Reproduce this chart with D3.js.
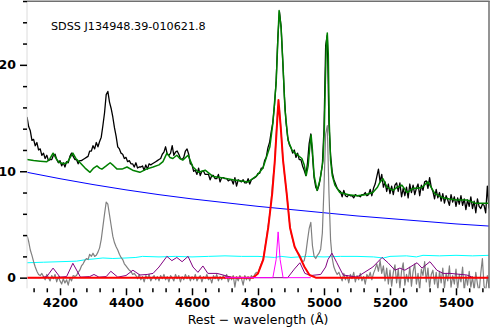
<!DOCTYPE html>
<html>
<head>
<meta charset="utf-8">
<script src="https://cdn.jsdelivr.net/npm/d3@7"></script>
<style>
  body { margin: 0; background: #fff; }
  svg { display: block; font-family: "DejaVu Sans", sans-serif; }
</style>
</head>
<body>
<div class="chart"></div>
<script>
// observed spectrum + residual, sampled on a 5 A grid
const obsWave = d3.range(4100, 5501, 5)
const obsFlux = [
  15.1, 14.2, 13.8, 12.9, 13.0, 12.4, 12.7, 12.0, 12.1, 11.5,
  11.7, 11.2, 11.5, 11.0, 11.1, 11.1, 11.5, 11.6, 11.1, 10.8,
  11.0, 10.5, 10.8, 10.4, 10.9, 10.8, 11.4, 11.7, 11.4, 11.1,
  11.1, 10.7, 11.0, 11.0, 11.1, 11.2, 11.3, 11.4, 11.9, 11.9,
  12.4, 12.1, 12.7, 12.3, 12.8, 13.2, 14.3, 15.5, 17.2, 17.5,
  16.5, 15.9, 15.1, 14.1, 13.3, 12.3, 12.1, 11.7, 11.6, 11.2,
  11.3, 10.9, 11.0, 10.7, 10.7, 10.4, 10.8, 10.3, 10.4, 10.4,
  10.5, 10.1, 10.6, 10.2, 10.7, 10.6, 10.7, 10.8, 10.9, 11.0,
  11.1, 11.2, 11.6, 11.8, 12.3, 11.6, 11.5, 11.7, 12.4, 11.5,
  11.8, 11.9, 11.6, 11.2, 11.1, 11.3, 11.9, 12.1, 11.6, 10.7,
  10.6, 10.0, 10.1, 9.7, 10.3, 9.6, 10.0, 10.0, 9.7, 9.7,
  9.7, 9.2, 9.6, 9.6, 9.3, 9.3, 9.7, 9.0, 9.4, 9.4,
  9.3, 9.3, 9.1, 9.2, 9.2, 8.8, 9.4, 8.6, 9.2, 9.1,
  9.0, 9.2, 8.9, 8.9, 9.3, 8.8, 9.2, 9.3, 9.4, 9.5,
  9.8, 9.8, 10.3, 10.3, 11.0, 11.3, 12.2, 12.7, 13.7, 14.6,
  16.2, 18.5, 22.5, 25.0, 23.6, 20.4, 17.0, 14.6, 13.2, 12.5,
  12.2, 11.7, 12.0, 11.3, 11.7, 11.1, 11.1, 10.5, 10.1, 9.6,
  10.8, 12.6, 13.5, 11.5, 9.4, 8.5, 8.2, 8.7, 9.6, 10.6,
  14.0, 21.8, 22.8, 14.5, 11.5, 9.9, 9.2, 8.8, 8.4, 8.2,
  8.1, 7.6, 8.2, 7.7, 7.6, 7.8, 7.7, 7.7, 7.5, 7.8,
  7.7, 7.7, 7.6, 7.8, 7.8, 8.0, 7.7, 7.8, 8.3, 7.7,
  8.4, 8.8, 9.5, 10.2, 9.0, 9.7, 8.5, 9.0, 8.1, 8.8,
  7.9, 8.6, 7.8, 8.7, 8.9, 8.1, 8.9, 7.6, 8.4, 7.7,
  8.5, 7.5, 8.8, 8.0, 8.7, 7.8, 8.4, 8.8, 7.7, 8.7,
  8.2, 9.0, 9.1, 8.4, 9.4, 8.5, 8.1, 7.4, 8.3, 7.5,
  8.0, 7.2, 7.9, 7.0, 7.7, 7.3, 6.8, 7.8, 7.1, 7.6,
  6.7, 7.5, 6.9, 7.7, 6.8, 7.4, 6.4, 7.3, 6.7, 7.6,
  6.5, 7.2, 6.1, 7.4, 6.7, 6.5, 6.9, 6.8, 6.1, 8.6,
  6.5
]
const residFlux = [
  4.0, 3.4, 2.6, 2.1, 1.5, 1.0, 0.6, 0.3, 0.2, 0.4,
  0.1, -0.2, 0.3, 0.0, -0.3, 0.2, -0.1, 0.3, -0.4, 0.1,
  -0.3, -0.6, -0.1, -0.5, -0.2, -0.7, 0.0, -0.3, 0.2, 0.1,
  0.2, 0.5, 0.7, 1.1, 1.3, 1.6, 1.8, 1.7, 2.2, 2.0,
  2.3, 2.0, 2.1, 2.4, 2.8, 3.6, 4.8, 6.0, 7.1, 6.9,
  5.9, 4.9, 3.9, 3.3, 2.9, 2.6, 2.2, 1.9, 1.7, 1.3,
  1.1, 0.9, 0.7, 0.6, 0.3, 0.4, 0.2, -0.1, 0.3, -0.2,
  0.1, -0.4, 0.2, -0.1, 0.3, -0.3, 0.0, 0.2, -0.2, 0.1,
  -0.3, 0.2, -0.1, 0.3, -0.2, 0.1, -0.4, 0.2, 0.0, -0.3,
  0.3, -0.1, 0.2, -0.4, 0.1, -0.2, 0.3, -0.1, 0.2, -0.3,
  0.1, -0.2, 0.3, -0.3, 0.0, 0.2, -0.4, 0.1, -0.1, 0.3,
  -0.2, 0.0, -0.5, 0.2, -0.1, 0.3, -0.3, 0.1, -0.2, 0.2,
  -0.1, 0.3, -0.4, 0.1, -0.2, 0.2, -0.9, 0.1, -0.3, 0.2,
  -0.1, -0.7, 0.2, -0.2, 0.1, -0.3, 0.2, 0.0, 0.3, 0.5,
  0.4, 0.9, 1.3, 1.7, 2.6, 3.6, 4.7, 5.8, 7.3, 9.2,
  10.6, 13.3, 16.0, 15.8, 13.7, 11.4, 9.8, 8.4, 7.0, 5.3,
  4.2, 3.6, 3.0, 2.6, 2.4, 2.2, 1.9, 1.5, 1.6, 2.3,
  3.5, 4.6, 5.2, 3.0, 2.0, 1.8, 2.1, 2.3, 2.7, 4.2,
  8.5, 13.5, 14.3, 8.0, 3.5, 1.8, 1.0, 0.6, 0.3, 0.5,
  0.1, -0.3, 0.4, -0.2, 0.2, -0.5, 0.3, -0.1, 0.5, -0.4,
  0.2, -0.2, 0.4, -0.3, 0.1, -0.6, 0.3, 0.0, 0.5, -0.2,
  0.4, 0.8, 1.3, 0.6, 1.6, 0.4, 1.1, -0.3, 0.9, -0.6,
  0.7, -0.8, 0.5, 1.2, -0.5, 0.8, -1.0, 0.6, 1.4, -0.7,
  0.3, -0.4, 1.0, -0.8, 0.6, 1.3, -0.6, 0.4, -1.1, 0.8,
  0.2, 1.5, -0.4, 0.9, -0.9, 0.3, 0.7, -0.6, 0.5, -1.2,
  0.6, -0.5, 0.9, -1.0, 0.4, -0.3, 1.1, -0.9, 0.2, -0.6,
  0.8, -1.1, 0.3, -0.4, 1.0, -1.3, 0.2, -0.7, 0.6, -0.9,
  0.1, -1.2, 0.5, -0.6, -1.4, 0.4, 1.8, -0.8, -1.3, 0.2,
  -0.9
]

// model components, [wavelength, flux]
const fitPoints = [
  [4100, 11.1], [4120, 11.0], [4140, 10.95], [4160, 10.9], [4170, 11.2], [4179, 11.7],
  [4188, 11.2], [4197, 10.85], [4210, 10.7], [4222, 10.8], [4231, 11.3], [4239, 11.7],
  [4248, 11.2], [4261, 10.8], [4276, 10.3], [4291, 9.9], [4302, 10.3], [4312, 10.5],
  [4320, 10.3], [4327, 10.2], [4340, 10.5], [4352, 10.8], [4363, 10.5], [4373, 10.2],
  [4388, 10.2], [4403, 10.4], [4420, 10.1], [4442, 9.9], [4462, 10.2], [4482, 10.4],
  [4500, 10.6], [4512, 10.9], [4524, 11.7], [4533, 11.3], [4542, 11.2], [4554, 11.5],
  [4563, 11.2], [4572, 11.05], [4588, 11.5], [4603, 10.4], [4620, 9.9], [4640, 10.1],
  [4664, 9.5], [4690, 9.4], [4724, 9.2], [4770, 9.0], [4797, 9.6], [4815, 10.3],
  [4836, 12.3], [4845, 14.5], [4855, 18.3], [4861, 23.0], [4864, 25.1], [4870, 23.5],
  [4876, 19.8], [4882, 15.7], [4891, 12.9], [4903, 12.0], [4912, 11.7], [4921, 11.5],
  [4933, 11.2], [4940, 10.6], [4946, 9.6], [4952, 10.5], [4957, 12.3], [4961, 13.4],
  [4965, 12.0], [4970, 9.6], [4979, 8.2], [4988, 9.2], [4997, 11.0], [5001, 14.0],
  [5004, 18.3], [5007, 22.0], [5010, 23.0], [5013, 21.0], [5016, 14.5], [5020, 11.0],
  [5025, 9.6], [5033, 8.7], [5048, 8.0], [5075, 7.8], [5100, 7.7], [5125, 7.8],
  [5148, 8.0], [5162, 8.5], [5170, 9.0], [5179, 9.3], [5191, 8.5], [5209, 8.2],
  [5222, 8.5], [5236, 8.7], [5252, 8.0], [5270, 8.4], [5284, 8.4], [5297, 8.5],
  [5315, 9.0], [5336, 7.9], [5361, 7.5], [5380, 7.4], [5403, 7.3], [5433, 7.3],
  [5458, 7.0], [5500, 7.0]
]
const contPoints = [
  [4100, 9.9], [4200, 9.3], [4300, 8.75], [4400, 8.25], [4500, 7.8], [4600, 7.4],
  [4700, 7.05], [4800, 6.7], [4900, 6.4], [5000, 6.1], [5100, 5.8], [5200, 5.55],
  [5300, 5.3], [5400, 5.05], [5500, 4.85]
]
const errPoints = [
  [4100, 1.4], [4150, 1.45], [4200, 1.5], [4250, 1.55], [4280, 1.7], [4300, 1.75],
  [4330, 1.85], [4360, 1.8], [4400, 1.85], [4430, 1.9], [4450, 2.0], [4500, 1.95],
  [4550, 2.0], [4600, 1.95], [4650, 2.0], [4700, 2.05], [4750, 2.0], [4800, 2.0],
  [4850, 1.9], [4870, 2.0], [4900, 1.9], [4950, 2.0], [5000, 1.95], [5050, 2.0],
  [5100, 2.0], [5150, 1.95], [5180, 1.85], [5200, 2.0], [5250, 2.05], [5280, 1.95],
  [5300, 2.1], [5350, 2.05], [5400, 2.1], [5450, 2.05], [5500, 2.1]
]
const feiiPoints = [
  [4100, 0], [4140, 0], [4160, 0.1], [4179, 0.9], [4200, 0.05], [4220, 0.1],
  [4239, 1.35], [4262, 0.05], [4290, 0.1], [4303, 0.3], [4318, 0.05], [4340, 0.1],
  [4354, 0.6], [4375, 0.05], [4400, 0.2], [4421, 0.7], [4442, 0.25], [4464, 0.3],
  [4482, 0.4], [4500, 1.0], [4524, 2.0], [4539, 1.6], [4554, 1.9], [4570, 1.5],
  [4588, 2.0], [4603, 1.0], [4618, 0.5], [4633, 1.1], [4648, 0.4], [4676, 0.4],
  [4724, 0], [4890, 0], [4910, 0.8], [4927, 1.4], [4942, 0.4], [4960, 0.2],
  [4990, 0.3], [5005, 1.0], [5012, 1.7], [5024, 2.3], [5039, 1.4], [5058, 0.25],
  [5100, 0.05], [5148, 1.0], [5176, 1.9], [5194, 1.4], [5215, 0.7], [5230, 0.9],
  [5245, 0.7], [5261, 1.0], [5282, 1.4], [5297, 0.9], [5321, 1.5], [5342, 0.7],
  [5361, 0.4], [5382, 0.4], [5433, 0.25], [5452, 0], [5500, 0]
]
const broadHbPoints = [
  [4100, 0], [4785, 0], [4800, 0.4], [4816, 1.7], [4831, 4.7], [4843, 7.9],
  [4851, 11.0], [4857, 14.1], [4862, 16.7], [4869, 14.1], [4876, 11.0], [4887, 7.9],
  [4897, 4.7], [4911, 2.9], [4926, 2.0], [4941, 1.0], [4956, 0.25], [4975, 0], [5500, 0]
]
const narrowHbPoints = [
  [4700, 0], [4845, 0], [4855, 1.7], [4861, 4.3], [4867, 1.7], [4876, 0], [4960, 0]
]

const title = 'SDSS J134948.39-010621.8'
const xLabel = 'Rest \u2212 wavelength (\u00c5)'
const xMajor = [4200, 4400, 4600, 4800, 5000, 5200, 5400]
const yMajor = [0, 10, 20]

const width = 490
const height = 329
const m = { left: 27, right: 489, top: 1, bottom: 288.3 }

const x = d3.scaleLinear().domain([4100, 5500]).range([m.left, m.right])
const y = d3.scaleLinear().domain([-1, 26]).range([m.bottom, m.top])

const svg = d3.select('.chart').append('svg')
  .attr('width', width)
  .attr('height', height)

svg.append('clipPath').attr('id', 'plot')
  .append('rect')
  .attr('x', m.left).attr('y', m.top)
  .attr('width', m.right - m.left).attr('height', m.bottom - m.top)

const line = d3.line().x(d => x(d[0])).y(d => y(d[1]))
const obs = obsWave.map((w, i) => [w, obsFlux[i]])
const resid = obsWave.map((w, i) => [w, residFlux[i]])

const plot = svg.append('g').attr('clip-path', 'url(#plot)')

function draw (data, color, w) {
  plot.append('path')
    .datum(data)
    .attr('d', line)
    .attr('fill', 'none')
    .attr('stroke', color)
    .attr('stroke-width', w)
    .attr('stroke-linejoin', 'round')
}

draw(obs, '#000', 1.3)
draw(fitPoints, '#008000', 1.5)
draw(contPoints, '#0000ff', 1)
draw(errPoints, '#00ffff', 1)
draw(resid, '#808080', 1.2)
draw(feiiPoints, '#800080', 1)
draw(broadHbPoints, '#ff0000', 2)
draw(narrowHbPoints, '#ff00ff', 1)

// spines
svg.append('line')
  .attr('x1', m.left).attr('x2', m.left).attr('y1', m.top).attr('y2', m.bottom)
  .attr('stroke', '#dcdcdc').attr('stroke-width', 1)
svg.append('line')
  .attr('x1', m.left).attr('x2', m.right + 0.7).attr('y1', m.top + 0.3).attr('y2', m.top + 0.3)
  .attr('stroke', '#707070').attr('stroke-width', 1.5)
svg.append('line')
  .attr('x1', m.right).attr('x2', m.right).attr('y1', m.top).attr('y2', m.bottom)
  .attr('stroke', '#707070').attr('stroke-width', 1.5)

// axes
const xMinor = d3.range(4120, 5500, 40).filter(v => !xMajor.includes(v))
const yMinor = d3.range(2, 27, 2).filter(v => !yMajor.includes(v))

function style (g) {
  g.select('.domain').remove()
  g.selectAll('.tick line').attr('stroke', '#000').attr('stroke-width', 1.5)
  g.selectAll('.tick text')
    .attr('fill', '#000')
    .attr('font-family', '"DejaVu Sans", sans-serif')
    .attr('font-weight', 'bold')
    .attr('font-size', 12.5)
}

svg.append('g')
  .attr('transform', `translate(0,${m.bottom})`)
  .call(d3.axisBottom(x).tickValues(xMinor).tickSize(4).tickFormat(''))
  .call(style)
svg.append('g')
  .attr('transform', `translate(0,${m.bottom})`)
  .call(d3.axisBottom(x).tickValues(xMajor).tickSize(7).tickPadding(3).tickFormat(d3.format('d')))
  .call(style)
svg.append('g')
  .attr('transform', `translate(${m.left},0)`)
  .call(d3.axisLeft(y).tickValues(yMinor).tickSize(4).tickFormat(''))
  .call(style)
svg.append('g')
  .attr('transform', `translate(${m.left},0)`)
  .call(d3.axisLeft(y).tickValues(yMajor).tickSize(7).tickPadding(4).tickFormat(d3.format('d')))
  .call(style)

svg.append('text')
  .attr('x', 51).attr('y', 29.5)
  .attr('font-size', 11.2)
  .attr('fill', '#000')
  .text(title)

svg.append('text')
  .attr('x', (m.left + m.right) / 2).attr('y', 324)
  .attr('text-anchor', 'middle')
  .attr('font-size', 12.5)
  .attr('fill', '#000')
  .text(xLabel)
</script>
</body>
</html>
